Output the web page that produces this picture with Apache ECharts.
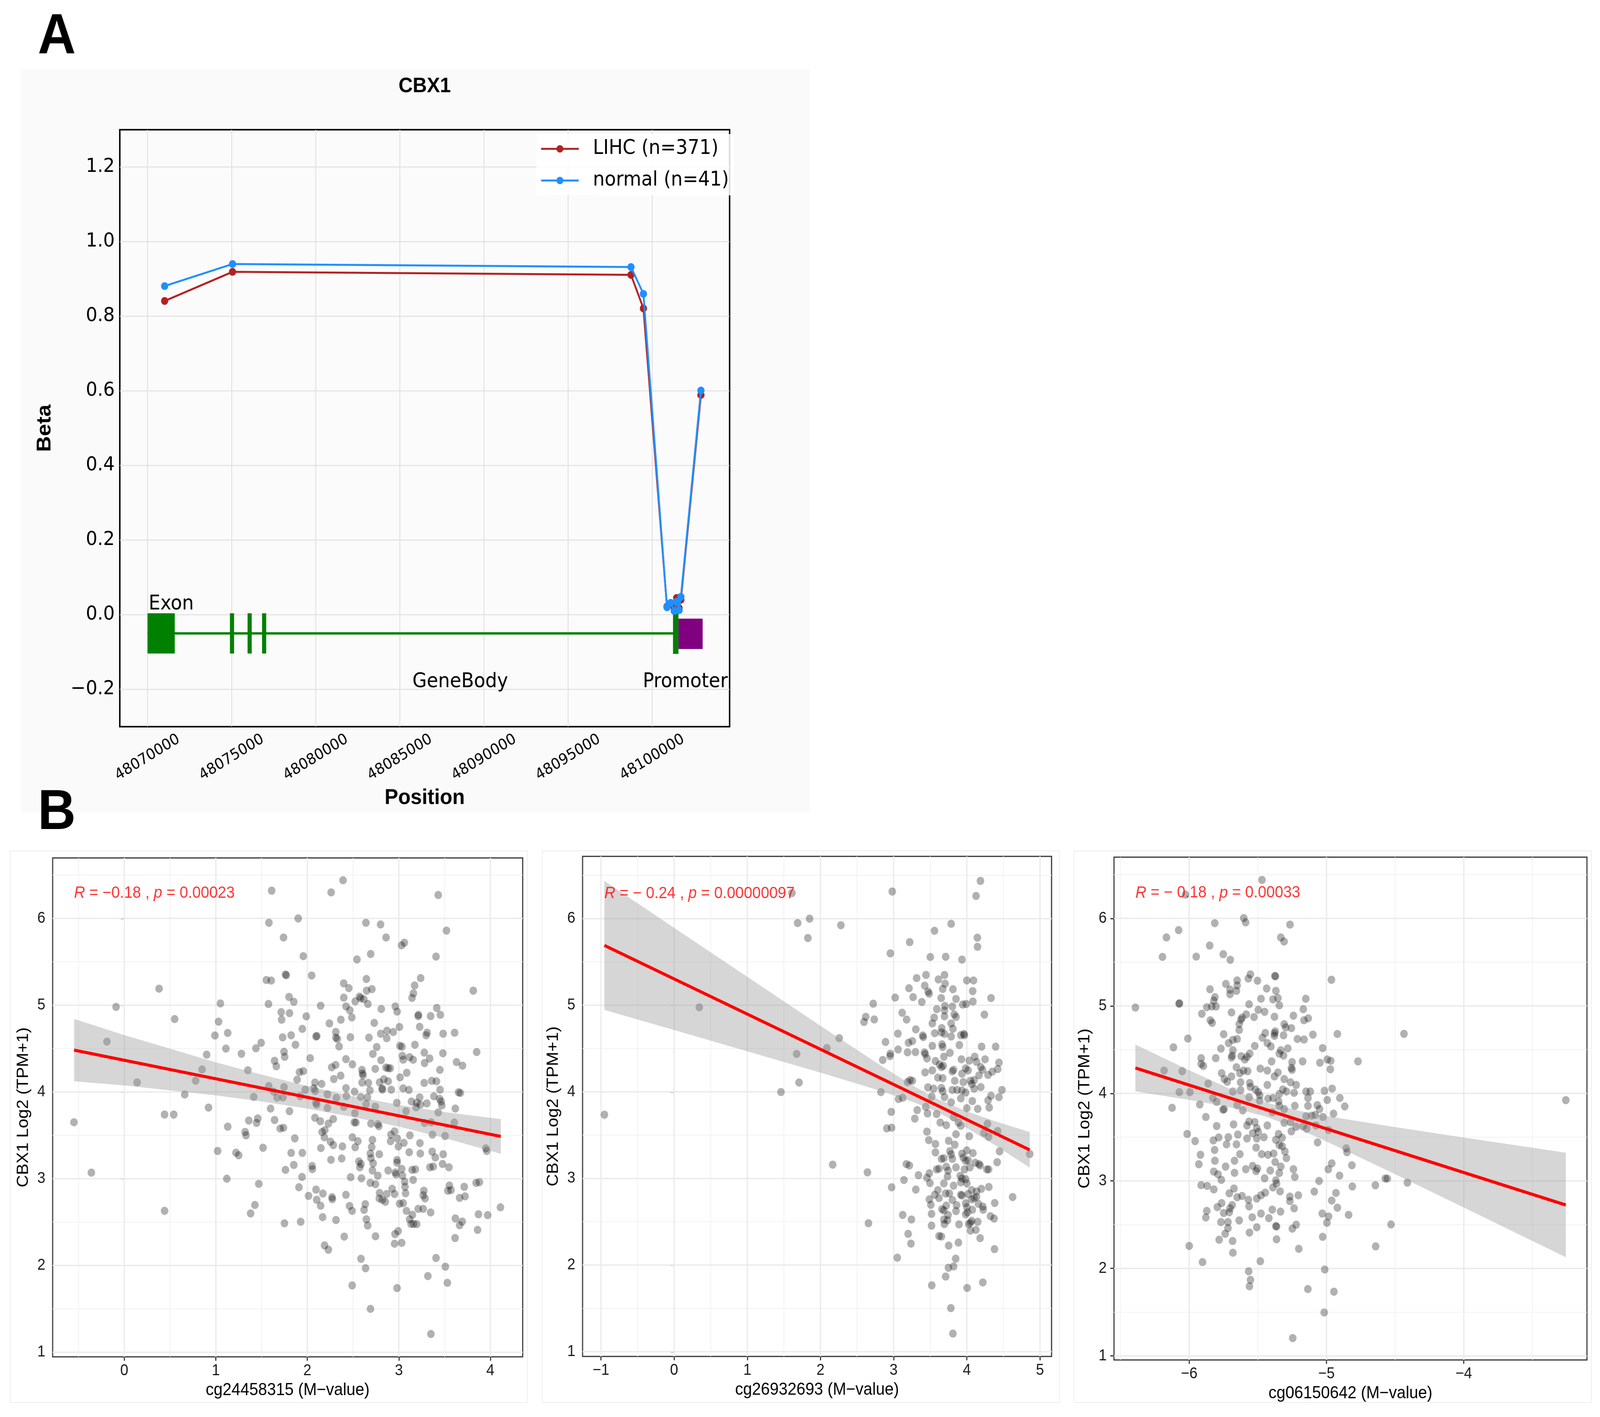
<!DOCTYPE html>
<html>
<head>
<meta charset="utf-8">
<title>CBX1 methylation</title>
<script src="https://cdn.jsdelivr.net/npm/echarts@6/dist/echarts.min.js"></script>
<style>
html, body { margin: 0; padding: 0; background: #fff; overflow: hidden; }
#chart { width: 4408px; height: 3627px; transform-origin: 0 0; }
</style>
</head>
<body>
<div id="chart"></div>
<script>
// ---------- panel A: beta values along CBX1 ----------
const probePositions = [48071016, 48075051, 48098738, 48099477, 48100878, 48101094, 48101309, 48101452, 48101597, 48101705, 48102896];
const lihcBeta = [0.841, 0.919, 0.911, 0.821, 0.022, 0.028, 0.015, 0.045, 0.018, 0.040, 0.589];
const normalBeta = [0.881, 0.940, 0.932, 0.860, 0.020, 0.032, 0.010, 0.035, 0.012, 0.048, 0.601];
const seriesNames = ['LIHC (n=371)', 'normal (n=41)'];

// gene model (genomic coordinates / beta units)
const geneBody = [48070000, 48101398];
const geneBodyY = -0.05;
const exonStart = [48070000, 48074898, 48075946, 48076808, 48101236];
const exonEnd = [48071618, 48075144, 48076192, 48077054, 48101560];
const exonBottom = [-0.104, -0.104, -0.104, -0.104, -0.105];
const exonTop = [0.004, 0.004, 0.004, 0.004, 0.003];
const promoterBox = [48101560, 48102998, -0.092, -0.0105];
const regionLabels = ['Exon', 'GeneBody', 'Promoter'];
const regionLabelX = [48070065, 48085746, 48099443];
const regionLabelY = [0.028, -0.180, -0.180];

const posRange = [48068350, 48104600];
const betaRange = [-0.3, 1.3];
const posTicks = [48070000, 48075000, 48080000, 48085000, 48090000, 48095000, 48100000];
const betaTicks = [-0.2, 0, 0.2, 0.4, 0.6, 0.8, 1.0, 1.2];

// ---------- panel B: CBX1 expression vs probe M-value ----------
const probeNames = ['cg24458315 (M\u2212value)', 'cg26932693 (M\u2212value)', 'cg06150642 (M\u2212value)'];
const corR = ['\u22120.18', '\u2212 0.24', '\u2212 0.18'];
const corP = ['0.00023', '0.00000097', '0.00033'];

const cg24458315Pts = [
[-0.55,3.65],[-0.36,3.07],[-0.19,4.58],[-0.09,4.98],[0.14,4.11],[0.38,5.19],[0.44,3.74],[0.54,3.74],[0.44,2.63],[0.55,4.84],[0.66,3.97],[0.78,4.13],[0.85,4.26],[0.90,4.43],[0.92,3.82],[0.99,4.65],[1.02,3.32],[1.03,4.81],[1.05,5.02],[1.11,4.50],[1.12,3.00],[1.13,4.68],[1.13,3.60],[1.22,3.30],[1.25,3.27],[1.28,4.44],[1.32,3.54],[1.33,3.50],[1.35,4.25],[1.36,3.67],[1.38,2.60],
[1.61,6.32],[2.26,6.30],[2.39,6.44],[3.43,6.27],[1.58,5.95],[1.90,6.00],[2.64,5.95],[2.80,5.93],[3.52,5.86],[1.74,5.78],[2.86,5.78],[3.06,5.72],[3.03,5.69],
[2.49,1.77],[2.69,1.50],[2.98,1.74],[3.35,1.21],[3.53,1.80],
[3.88,2.96],[3.87,2.59],[3.86,2.41],[3.97,2.58],[4.11,2.67],[3.95,3.35],[3.96,3.32],[3.85,4.46],
[1.956,5.565],[2.542,5.527],[2.692,5.590],[3.406,5.560],[1.761,5.354],[1.770,5.344],[1.552,5.290],[1.605,5.284],[2.047,5.342],[2.397,5.252],[2.453,5.197],[2.645,5.302],[2.648,5.167],[2.705,5.185],[3.238,5.312],[3.172,5.227],[3.159,5.137],[3.144,5.084],[3.813,5.167],[1.800,5.095],[1.852,5.039],[1.575,5.014],[2.145,4.994],[2.398,5.087],[2.570,5.099],[2.583,5.080],[2.523,5.044],[2.617,5.069],[2.661,5.014],[2.423,4.986],[2.464,4.941],[2.486,4.859],[2.808,4.956],[2.961,4.986],[2.981,4.926],[3.214,4.889],[3.211,4.874],[3.347,4.874],[3.414,4.968],[3.453,4.889],[1.714,4.919],[1.805,4.908],[1.719,4.833],[1.988,4.871],[2.241,4.790],[2.366,4.833],[2.731,4.796],[3.006,4.749],[3.227,4.751],[1.945,4.727],[1.730,4.629],[1.823,4.653],[2.103,4.646],[2.095,4.638],[2.311,4.691],[2.311,4.626],[2.328,4.611],[2.470,4.631],[2.673,4.626],[2.802,4.671],[2.870,4.706],[2.939,4.691],[2.867,4.619],[3.308,4.683],[3.298,4.653],[3.484,4.671],[3.609,4.682],[1.495,4.566],[1.438,4.503],[1.870,4.544],[2.347,4.524],[2.758,4.518],[3.011,4.532],[3.034,4.521],[3.175,4.544],[2.716,4.438],[3.278,4.453],[3.481,4.446],[1.745,4.464],[1.752,4.405],[2.031,4.389],[1.642,4.359],[1.661,4.296],[2.422,4.378],[2.492,4.318],[2.805,4.366],[3.039,4.416],[3.047,4.371],[3.117,4.401],[3.156,4.371],[3.336,4.386],[3.281,4.333],[3.630,4.344],[3.695,4.303],[2.266,4.284],[2.309,4.311],[2.597,4.254],[2.602,4.213],[2.609,4.191],[2.742,4.266],[2.859,4.281],[2.883,4.273],[2.906,4.273],[3.448,4.254],[1.914,4.228],[1.956,4.240],[1.888,4.141],[2.289,4.149],[2.364,4.188],[3.086,4.221],[3.013,4.168],[2.836,4.146],[2.883,4.123],[2.789,4.111],[3.277,4.104],[3.359,4.128],[3.411,4.123],[2.083,4.108],[2.156,4.093],[2.598,4.108],[2.667,4.104],[1.578,4.068],[1.745,4.056],[1.977,4.026],[2.070,4.041],[2.086,4.011],[2.422,4.044],[2.516,4.003],[2.683,4.018],[2.817,4.041],[2.820,4.026],[2.917,4.026],[3.047,4.041],[3.109,4.023],[3.450,4.026],[3.652,3.996],[3.672,3.988],[1.414,3.943],[1.633,4.003],[1.669,3.935],[1.734,3.938],[1.922,3.950],[2.219,3.973],[2.317,3.932],[2.427,3.953],[2.583,3.943],[2.656,3.938],[3.227,3.938],[3.195,3.875],[3.383,3.950],[3.445,3.920],[3.461,3.890],[3.305,3.868],[3.234,3.853],[2.977,3.875],[2.094,3.875],[2.102,3.853],[1.598,3.808],[1.805,3.778],[2.219,3.815],[2.398,3.830],[2.641,3.860],[2.742,3.830],[2.520,3.755],[3.078,3.778],[3.430,3.763],[3.617,3.808],[3.469,3.845],[3.188,3.823],[3.138,3.890],
[1.458,3.695],[1.445,3.643],[1.642,3.677],[1.703,3.578],[1.739,3.587],[2.083,3.703],[2.142,3.662],[2.283,3.688],[2.230,3.635],[2.161,3.538],[2.191,3.560],[2.186,3.477],[2.252,3.428],[2.284,3.387],[2.513,3.650],[2.531,3.647],[2.695,3.635],[2.770,3.628],[2.781,3.605],[2.492,3.477],[2.552,3.432],[2.523,3.362],[2.383,3.372],[2.711,3.447],[2.703,3.365],[2.688,3.290],[2.695,3.237],[2.719,3.177],[2.711,3.095],[2.786,3.282],[2.953,3.545],[2.914,3.508],[2.909,3.432],[2.984,3.462],[3.055,3.413],[2.995,3.372],[3.120,3.500],[3.230,3.410],[3.234,3.290],[3.113,3.305],[3.364,3.312],[3.398,3.245],[3.484,3.282],[3.477,3.170],[3.547,3.132],[3.339,3.132],[3.375,3.140],[3.367,3.508],[3.505,3.492],[3.606,3.647],[3.281,3.643],[3.352,3.650],[1.516,3.357],[1.863,3.465],[1.823,3.297],[1.945,3.297],[2.148,3.353],[2.258,3.218],[2.375,3.233],[1.852,3.159],[1.761,3.102],[2.052,3.147],[2.055,3.110],[2.563,3.200],[2.586,3.170],[2.573,3.132],[2.980,3.215],[2.980,3.185],[2.883,3.095],[2.961,3.072],[2.969,3.050],[3.031,3.113],[3.145,3.102],[3.180,3.107],[2.770,3.035],[3.039,3.035],[3.156,2.986],[1.942,3.020],[2.473,3.017],[2.591,3.005],[1.469,2.941],[1.908,2.902],[2.688,2.952],[2.745,2.937],[3.063,2.967],[3.067,2.907],[3.073,2.832],[3.552,2.922],[3.536,2.862],[3.570,2.869],[3.714,2.907],[3.844,2.952],[2.095,2.874],[2.170,2.829],[2.013,2.802],[2.102,2.757],[2.270,2.787],[2.273,2.764],[2.422,2.814],[2.789,2.836],[2.786,2.772],[2.820,2.757],[2.852,2.734],[2.867,2.824],[2.927,2.884],[2.953,2.824],[3.273,2.862],[3.266,2.809],[3.286,2.772],[3.664,2.779],[3.723,2.797],[1.427,2.697],[2.145,2.689],[2.461,2.686],[2.489,2.629],[2.633,2.707],[2.620,2.641],[3.008,2.712],[3.047,2.719],[3.083,2.629],[3.148,2.584],[3.211,2.652],[3.266,2.652],[3.347,2.611],[2.167,2.557],[2.313,2.524],[2.645,2.532],[2.659,2.461],[3.117,2.532],[3.133,2.479],[3.195,2.476],[3.161,2.479],[3.617,2.542],[3.692,2.506],[3.664,2.464],[1.750,2.486],[1.927,2.504],[2.403,2.333],[2.745,2.336],[2.992,2.396],[2.958,2.362],[2.953,2.251],[3.031,2.261],[3.614,2.317],[2.188,2.231],[2.230,2.182],[2.586,2.077],[2.636,1.968],[3.406,2.086],[3.508,1.986],[3.317,1.878]
];

const cg26932693Pts = [
[-0.953,3.736],[0.344,4.976],[1.460,3.998],[1.674,4.438],[1.707,4.108],[1.688,5.949],[1.851,6.0],[1.828,5.776],[1.609,6.296],[2.279,5.924],[2.088,4.506],[2.256,4.620],[2.167,3.160],[2.595,4.807],[2.619,4.866],[2.735,4.836],[2.721,5.018],[2.642,3.071],[2.656,2.483],[2.981,6.313],[3.786,5.941],[3.558,5.860],[3.219,5.729],[4.186,6.436],[4.126,6.262],[4.144,5.780],[4.860,3.283],
[2.955,5.599],[3.501,5.557],[3.711,5.560],[3.934,5.527],[4.146,5.675],[3.695,5.350],[3.314,5.313],[3.442,5.350],[3.612,5.298],[3.703,5.249],[3.670,5.188],[3.810,5.185],[4.000,5.286],[4.091,5.286],[4.080,5.163],[3.210,5.196],[3.425,5.226],[3.471,5.158],[3.485,5.133],[3.021,5.088],[3.266,5.094],[3.385,5.038],[3.650,5.083],[3.852,5.073],[3.943,5.008],[3.992,5.015],[4.083,5.043],[4.331,5.083],[3.700,4.993],[3.802,4.985],[3.590,4.955],[3.695,4.940],[3.695,4.872],[3.827,4.895],[3.852,4.865],[3.116,4.913],[3.177,4.835],[3.554,4.857],[3.529,4.790],[3.786,4.790],[4.240,4.892],[3.303,4.722],[3.058,4.672],[3.397,4.651],[3.405,4.632],[3.562,4.677],[3.657,4.737],[3.653,4.687],[3.695,4.669],[3.786,4.639],[3.810,4.729],[3.918,4.654],[3.959,4.669],[3.967,4.654],[2.889,4.576],[3.203,4.567],[3.256,4.587],[3.529,4.531],[3.661,4.549],[3.670,4.519],[3.898,4.541],[4.202,4.522],[4.394,4.522],[3.061,4.489],[3.190,4.456],[3.298,4.459],[3.422,4.456],[3.430,4.436],[3.455,4.386],[2.950,4.413],[2.955,4.441],[2.851,4.368],[3.769,4.451],[3.686,4.406],[3.571,4.356],[3.628,4.316],[3.653,4.286],[3.678,4.301],[3.529,4.248],[3.430,4.225],[3.819,4.255],[3.802,4.236],[3.926,4.376],[4.034,4.361],[4.108,4.406],[4.133,4.346],[4.249,4.376],[4.439,4.338],[3.984,4.271],[4.017,4.248],[3.934,4.210],[4.191,4.286],[4.215,4.255],[4.166,4.191],[4.290,4.195],[4.348,4.233],[4.422,4.263],[3.604,4.165],[3.670,4.158],[3.835,4.128],[3.951,4.113],[4.050,4.128],[4.100,4.135],[4.067,4.090],[3.256,4.128],[3.190,4.113],[3.223,4.135],[2.826,3.997],[3.468,4.052],[3.546,4.037],[3.653,4.045],[3.670,4.007],[3.802,4.022],[3.868,4.022],[3.934,4.015],[3.984,3.992],[4.100,4.037],[4.191,4.055],[4.480,4.022],[3.066,3.917],[3.124,3.932],[3.521,3.947],[3.695,3.939],[3.786,3.879],[3.918,3.924],[4.075,3.894],[4.331,3.955],[4.290,3.902],[4.439,3.939],[4.306,3.819],[4.149,3.804],[4.000,3.812],[2.967,3.769],[3.322,3.789],[3.438,3.827],[3.463,3.751],[3.289,3.691],[3.587,3.744],[3.637,3.646],[3.719,3.616],[3.819,3.706],[3.885,3.646],[3.918,3.608],[4.282,3.631],[4.232,3.526],[4.298,3.480],[4.422,3.548],[4.034,3.488],[3.455,3.541],[3.480,3.443],[3.571,3.398],[3.852,3.511],[3.752,3.435],[3.835,3.390],[2.906,3.578],[2.972,3.586],
[3.571,3.301],[3.769,3.316],[3.786,3.278],[3.934,3.286],[4.083,3.293],[4.000,3.324],[4.447,3.313],[3.174,3.166],[3.215,3.150],[3.653,3.226],[3.686,3.233],[3.802,3.226],[3.951,3.241],[3.984,3.203],[4.017,3.211],[4.116,3.181],[4.182,3.150],[4.166,3.166],[4.273,3.105],[4.298,3.105],[4.414,3.188],[3.587,3.105],[3.620,3.113],[3.719,3.135],[3.744,3.090],[3.852,3.128],[3.967,3.105],[4.042,3.128],[3.339,3.038],[3.488,3.060],[3.455,3.008],[3.496,2.947],[3.736,3.023],[3.910,3.030],[3.934,3.000],[3.984,2.992],[3.141,2.982],[2.972,2.898],[3.303,2.872],[3.686,2.943],[3.819,2.917],[3.918,2.955],[4.000,2.943],[3.604,2.865],[3.562,2.812],[3.620,2.774],[3.711,2.827],[3.761,2.827],[3.488,2.759],[3.508,2.696],[3.802,2.752],[3.918,2.812],[3.934,2.804],[4.017,2.819],[4.066,2.865],[4.133,2.850],[4.199,2.880],[4.133,2.789],[4.066,2.759],[4.100,2.774],[4.301,2.902],[4.626,2.786],[3.719,2.687],[3.860,2.692],[3.984,2.714],[4.000,2.669],[4.075,2.639],[4.158,2.707],[4.219,2.676],[4.224,2.639],[4.381,2.717],[3.661,2.646],[3.686,2.631],[3.852,2.624],[3.984,2.586],[4.009,2.609],[3.124,2.579],[3.243,2.526],[3.518,2.591],[3.744,2.579],[3.686,2.526],[3.736,2.518],[3.694,2.473],[4.323,2.564],[4.373,2.537],[3.518,2.455],[3.893,2.470],[4.025,2.473],[4.050,2.488],[4.066,2.511],[4.149,2.500],[4.050,2.398],[4.124,2.406],[3.198,2.360],[3.236,2.248],[3.620,2.335],[3.653,2.330],[3.752,2.225],[3.885,2.260],[4.182,2.311],[4.378,2.184],[3.050,2.085],[3.848,2.074],[3.749,1.969],[3.819,1.984],[3.711,1.867],[3.521,1.766],[4.004,1.736],[4.219,1.799],[3.782,1.503],[3.810,1.209]
];

const cg06150642Pts = [
[-5.470,6.440],[-6.027,6.272],[-5.603,6.004],[-5.589,5.954],[-5.814,5.946],[-5.266,5.929],[-6.077,5.866],[-6.166,5.782],[-5.333,5.782],[-5.309,5.736],[-5.851,5.690],[-6.392,4.982],[-4.436,4.681],[-3.257,3.923],[-4.644,2.951],[-4.572,3.027],[-4.557,3.027],[-4.411,2.981],[-4.530,2.503],[-4.642,2.252],
[-6.195,5.560],[-5.949,5.563],[-5.752,5.590],[-5.701,5.527],[-5.554,5.361],[-5.569,5.313],[-5.503,5.288],[-5.376,5.343],[-5.372,5.338],[-4.964,5.299],[-5.733,5.251],[-5.651,5.291],[-5.651,5.234],[-5.703,5.187],[-5.656,5.172],[-5.703,5.134],[-5.849,5.190],[-5.436,5.199],[-5.369,5.172],[-5.354,5.090],[-5.390,5.075],[-5.344,5.007],[-5.477,5.082],[-5.151,5.082],[-5.813,5.100],[-5.821,5.060],[-6.074,5.025],[-6.071,5.030],[-5.872,4.985],[-5.836,4.993],[-5.805,4.993],[-5.908,4.910],[-5.564,5.019],[-5.692,4.925],[-5.497,4.955],[-5.451,4.933],[-5.528,4.873],[-5.379,4.876],[-5.585,4.903],[-5.615,4.866],[-5.623,4.843],[-5.636,4.791],[-5.636,4.724],[-5.846,4.836],[-5.833,4.806],[-5.169,4.963],[-5.241,4.888],[-5.164,4.836],[-5.133,4.858],[-5.308,4.791],[-5.297,4.754],[-5.256,4.746],[-5.749,4.676],[-5.446,4.691],[-5.379,4.687],[-5.379,4.657],[-5.374,4.709],[-5.313,4.664],[-5.467,4.637],[-5.431,4.575],[-5.405,4.537],[-5.212,4.622],[-5.164,4.616],[-5.099,4.672],[-4.921,4.679],[-6.010,4.627],[-6.115,4.527],[-5.651,4.622],[-5.682,4.612],[-5.713,4.575],[-5.769,4.512],[-5.523,4.542],[-5.682,4.493],[-5.687,4.433],[-5.692,4.410],[-5.621,4.425],[-5.579,4.418],[-5.559,4.455],[-5.595,4.388],[-5.333,4.493],[-5.282,4.515],[-5.344,4.455],[-5.313,4.433],[-5.028,4.518],[-4.771,4.366],[-4.995,4.388],[-4.969,4.373],[-5.048,4.351],[-4.972,4.276],[-5.174,4.366],[-4.959,4.055],[-5.913,4.403],[-5.913,4.336],[-5.897,4.313],[-5.807,4.403],[-6.183,4.261],[-6.051,4.254],[-5.656,4.299],[-5.605,4.261],[-5.574,4.254],[-5.631,4.231],[-5.764,4.231],[-5.744,4.164],[-5.723,4.134],[-5.692,4.194],[-5.482,4.284],[-5.431,4.261],[-5.400,4.366],[-5.354,4.239],[-5.379,4.194],[-5.256,4.291],[-5.251,4.269],[-5.308,4.164],[-5.262,4.127],[-5.221,4.097],[-5.251,4.358],[-5.862,4.112],[-5.626,4.127],[-5.559,4.119],[-5.431,4.097],[-5.554,4.075],[-5.626,4.037],[-5.682,4.022],[-5.518,4.045],[-5.497,4.015],[-5.487,3.978],[-6.072,4.015],[-5.995,4.015],[-5.318,4.045],[-5.292,4.022],[-5.236,4.007],[-5.344,3.993],[-5.149,4.022],[-5.118,4.022],[-5.015,4.030],[-5.135,3.948],[-4.903,3.948],[-4.995,3.925],[-5.426,3.940],[-5.390,3.948],[-5.564,3.955],[-5.487,3.918],[-5.349,3.910],[-4.867,3.851],[-5.231,3.858],[-5.135,3.858],[-5.067,3.866],[-5.051,3.821],[-5.828,3.948],[-5.800,3.903],[-5.923,3.873],[-6.125,3.836],[-5.746,3.821],[-5.754,3.813],[-5.651,3.866],[-5.610,3.806],[-5.344,3.858],[-5.308,3.821],[-5.395,3.784],[-5.149,3.739],[-5.108,3.746],[-5.082,3.754],[-5.026,3.731],[-4.949,3.769],[-5.879,3.731],[-5.800,3.627],[-5.677,3.646],[-5.564,3.679],[-5.579,3.634],[-5.523,3.672],[-5.508,3.604],[-5.431,3.634],[-5.308,3.664],[-5.262,3.672],[-5.221,3.619],[-5.256,3.567],[-5.169,3.627],[-5.144,3.597],[-5.077,3.634],[-4.985,3.582],[-6.015,3.537],[-5.957,3.455],[-5.824,3.463],[-5.785,3.497],[-5.715,3.500],[-5.728,3.418],[-5.646,3.530],[-5.656,3.418],[-5.579,3.485],[-5.538,3.545],[-5.508,3.485],[-5.456,3.500],[-5.497,3.560],[-5.349,3.537],[-5.323,3.493],[-5.369,3.470],[-5.344,3.410],[-5.323,3.396],[-5.065,3.440],[-4.856,3.373],[-4.851,3.328],[-5.815,3.354],[-5.513,3.381],[-5.918,3.299],[-5.631,3.306],[-5.472,3.306],[-5.426,3.299],[-5.385,3.313],[-5.303,3.336],
[-5.292,3.261],[-5.930,3.191],[-5.813,3.231],[-5.735,3.164],[-5.670,3.231],[-5.670,3.093],[-5.821,3.107],[-5.790,3.075],[-5.766,3.012],[-5.588,3.134],[-5.538,3.172],[-5.503,3.142],[-5.513,3.112],[-5.451,3.030],[-5.410,3.119],[-5.374,3.216],[-5.333,3.164],[-5.344,3.090],[-5.369,3.007],[-5.364,2.970],[-5.390,2.925],[-5.338,2.881],[-5.241,3.134],[-5.231,3.045],[-5.913,2.952],[-5.869,2.943],[-5.821,2.903],[-5.674,2.913],[-5.708,2.858],[-5.651,2.813],[-5.615,2.828],[-5.569,2.784],[-5.564,2.709],[-5.508,2.799],[-5.477,2.836],[-5.446,2.866],[-5.267,2.821],[-5.267,2.769],[-5.205,2.836],[-5.236,2.687],[-5.764,2.746],[-5.795,2.701],[-5.687,2.724],[-5.703,2.687],[-5.749,2.634],[-5.708,2.642],[-5.872,2.657],[-5.879,2.582],[-5.769,2.530],[-5.718,2.530],[-5.718,2.460],[-5.738,2.396],[-5.636,2.549],[-5.541,2.585],[-5.477,2.627],[-5.395,2.672],[-5.335,2.649],[-5.420,2.575],[-5.508,2.470],[-5.561,2.410],[-5.369,2.485],[-5.364,2.478],[-5.221,2.500],[-5.249,2.455],[-5.782,2.328],[-5.684,2.313],[-5.682,2.179],[-6.000,2.257],[-5.903,2.072],[-5.364,2.333],[-5.202,2.224],[-5.482,2.082],[-5.567,1.967],[-5.554,1.869],[-5.561,1.796],[-5.136,1.764],[-4.946,1.734],[-5.017,1.497],[-5.246,1.204],[-5.054,3.000],[-5.089,2.878],[-4.987,3.134],[-4.962,3.201],[-4.905,3.060],[-4.815,3.179],[-4.812,2.937],[-4.931,2.863],[-4.962,2.776],[-4.921,2.694],[-5.031,2.627],[-4.985,2.594],[-4.997,2.522],[-4.839,2.612],[-5.028,2.361],[-5.013,1.988]
];

// linear fits and their confidence bands
const b1FitX = [-0.549, 4.114];
const b1FitY = [4.482, 3.487];
const b1BandX = [-0.549, 0, 0.5, 1, 1.5, 2, 2.5, 3, 3.5, 4.114];
const b1BandLow = [4.122, 4.075, 4.018, 3.961, 3.890, 3.808, 3.711, 3.600, 3.468, 3.287];
const b1BandHigh = [4.842, 4.655, 4.498, 4.341, 4.200, 4.068, 3.951, 3.850, 3.768, 3.687];

const b2FitX = [-0.953, 4.860];
const b2FitY = [5.691, 3.330];
const b2BandX = [-0.953, 0, 1, 2, 2.8, 3.3, 3.6, 4.0, 4.4, 4.86];
const b2BandLow = [4.946, 4.714, 4.468, 4.222, 4.017, 3.873, 3.767, 3.584, 3.377, 3.125];
const b2BandHigh = [6.436, 5.894, 5.328, 4.762, 4.317, 4.053, 3.917, 3.774, 3.657, 3.535];

const b3FitX = [-6.392, -3.257];
const b3FitY = [4.291, 2.725];
const b3BandX = [-6.392, -6.0, -5.7, -5.45, -5.2, -5.0, -4.5, -4.0, -3.5, -3.257];
const b3BandLow = [4.024, 3.926, 3.840, 3.740, 3.591, 3.451, 3.077, 2.696, 2.313, 2.128];
const b3BandHigh = [4.558, 4.264, 4.050, 3.900, 3.801, 3.741, 3.615, 3.496, 3.379, 3.322];

// axis ranges and ticks
const b1XRange = [-0.783, 4.353], b1YRange = [0.947, 6.697];
const b2XRange = [-1.251, 5.158], b2YRange = [0.945, 6.719];
const b3XRange = [-6.548, -3.103], b3YRange = [0.954, 6.700];
const b1XTicks = [0, 1, 2, 3, 4], b1XMinor = [-0.5, 0.5, 1.5, 2.5, 3.5];
const b2XTicks = [-1, 0, 1, 2, 3, 4, 5], b2XMinor = [-0.5, 0.5, 1.5, 2.5, 3.5, 4.5];
const b3XTicks = [-6, -5, -4], b3XMinor = [-6.5, -5.5, -4.5, -3.5];
const yTicksB = [1, 2, 3, 4, 5, 6], yMinorB = [1.5, 2.5, 3.5, 4.5, 5.5, 6.5];
const corLabelY = 6.29;

// ---------- chart ----------
const W = 4408, H = 3627;
const fontA = 'DejaVu Sans';
const fontB = 'Liberation Sans';
const minus = v => String(v).replace('-', '\u2212');

const dom = document.getElementById('chart');
function fitToWindow() {
    // the figure is laid out on a 4408x3627 sheet; squeeze it into whatever the window really is
    const sx = window.innerWidth / W, sy = window.innerHeight / H;
    dom.style.transform = (Math.abs(sx - 1) > 0.001 || Math.abs(sy - 1) > 0.001) ? `scale(${sx}, ${sy})` : 'none';
}
fitToWindow();
const chart = echarts.init(dom, null, { width: W, height: H });

// grid lines drawn through the axis scales
function gridLines(idx, xs, ys, yAt, xAt, color, width) {
    const items = xs.map(v => [v, 0]).concat(ys.map(v => [v, 1]));
    return {
        type: 'custom', xAxisIndex: idx, yAxisIndex: idx, z: 1, silent: true,
        data: items,
        renderItem: (params, api) => {
            const cs = params.coordSys;
            const v = api.value(0);
            if (api.value(1) === 0) {
                const x = api.coord([v, yAt])[0];
                return { type: 'line', shape: { x1: x, y1: cs.y, x2: x, y2: cs.y + cs.height }, style: { stroke: color, lineWidth: width } };
            }
            const y = api.coord([xAt, v])[1];
            return { type: 'line', shape: { x1: cs.x, y1: y, x2: cs.x + cs.width, y2: y }, style: { stroke: color, lineWidth: width } };
        }
    };
}

const grids = [{ left: 330, top: 332, width: 1680, height: 1528, show: true, backgroundColor: '#fbfbfb', borderColor: '#000', borderWidth: 4 }];
const xAxes = [{
    type: 'value', gridIndex: 0, min: posRange[0], max: posRange[1],
    splitLine: { show: false }, axisLine: { show: false }, axisTick: { show: false, customValues: posTicks },
    axisLabel: { customValues: posTicks, formatter: v => String(v), rotate: 30, align: 'center', verticalAlign: 'middle', margin: 79, fontFamily: fontA, fontSize: 39, color: '#000' },
    name: 'Position', nameLocation: 'middle', nameGap: 155,
    nameTextStyle: { fontFamily: fontB, fontWeight: 'bold', fontSize: 56, color: '#000' }
}];
const yAxes = [{
    type: 'value', gridIndex: 0, min: betaRange[0], max: betaRange[1],
    splitLine: { show: false }, axisLine: { show: false }, axisTick: { show: false, customValues: betaTicks },
    axisLabel: { customValues: betaTicks, formatter: v => minus(v.toFixed(1)), margin: 14, fontFamily: fontA, fontSize: 50, color: '#000' },
    name: 'Beta', nameLocation: 'middle', nameGap: 178, nameRotate: 90,
    nameTextStyle: { fontFamily: fontB, fontWeight: 'bold', fontSize: 56, color: '#000' }
}];

const series = [
    gridLines(0, posTicks, betaTicks, 0, posRange[0], '#dcdcdc', 2),
    {
        type: 'line', xAxisIndex: 0, yAxisIndex: 0, z: 2, silent: true, showSymbol: false,
        data: geneBody.map(x => [x, geneBodyY]),
        lineStyle: { color: '#008000', width: 6 }
    },
    {
        type: 'custom', xAxisIndex: 0, yAxisIndex: 0, z: 3, silent: true,
        data: exonStart.map((s, i) => [s, exonEnd[i], exonBottom[i], exonTop[i]]).concat([promoterBox]),
        encode: { x: [0, 1], y: [2, 3] },
        renderItem: (params, api) => {
            const a = api.coord([api.value(0), api.value(3)]);
            const b = api.coord([api.value(1), api.value(2)]);
            const isPromoter = params.dataIndex === exonStart.length;
            return {
                type: 'rect',
                shape: { x: a[0], y: a[1], width: b[0] - a[0], height: b[1] - a[1] },
                style: { fill: isPromoter ? '#800080' : '#008000' }
            };
        }
    },
    {
        type: 'custom', xAxisIndex: 0, yAxisIndex: 0, z: 3, silent: true,
        data: regionLabels.map((t, i) => [regionLabelX[i], regionLabelY[i]]),
        renderItem: (params, api) => {
            const p = api.coord([api.value(0), api.value(1)]);
            return {
                type: 'text', x: p[0], y: p[1],
                style: { text: regionLabels[params.dataIndex], fontFamily: fontA, fontSize: 51, fill: '#000', align: 'left', verticalAlign: 'middle' }
            };
        }
    },
    {
        name: seriesNames[0], type: 'line', xAxisIndex: 0, yAxisIndex: 0, z: 5,
        data: probePositions.map((x, i) => [x, lihcBeta[i]]),
        symbol: 'circle', symbolSize: 20, showAllSymbol: true,
        lineStyle: { color: '#b22222', width: 5 }, itemStyle: { color: '#b22222' }
    },
    {
        name: seriesNames[1], type: 'line', xAxisIndex: 0, yAxisIndex: 0, z: 6,
        data: probePositions.map((x, i) => [x, normalBeta[i]]),
        symbol: 'circle', symbolSize: 20, showAllSymbol: true,
        lineStyle: { color: '#1e90ff', width: 5 }, itemStyle: { color: '#1e90ff' }
    }
];

const panelsB = [
    { grid: { left: 145, top: 2196, width: 1295, height: 1277 }, pts: cg24458315Pts, xr: b1XRange, yr: b1YRange, xt: b1XTicks, xm: b1XMinor,
      fitX: b1FitX, fitY: b1FitY, bx: b1BandX, bl: b1BandLow, bh: b1BandHigh },
    { grid: { left: 1605, top: 2192, width: 1292, height: 1280 }, pts: cg26932693Pts, xr: b2XRange, yr: b2YRange, xt: b2XTicks, xm: b2XMinor,
      fitX: b2FitX, fitY: b2FitY, bx: b2BandX, bl: b2BandLow, bh: b2BandHigh },
    { grid: { left: 3069, top: 2194, width: 1303, height: 1287 }, pts: cg06150642Pts, xr: b3XRange, yr: b3YRange, xt: b3XTicks, xm: b3XMinor,
      fitX: b3FitX, fitY: b3FitY, bx: b3BandX, bl: b3BandLow, bh: b3BandHigh }
];

panelsB.forEach((P, k) => {
    const gi = k + 1;
    grids.push(Object.assign({ show: true, backgroundColor: '#fff', borderColor: '#333', borderWidth: 3 }, P.grid));
    xAxes.push({
        type: 'value', gridIndex: gi, min: P.xr[0], max: P.xr[1],
        splitLine: { show: false }, axisLine: { show: false },
        axisTick: { show: true, length: 10, customValues: P.xt, lineStyle: { color: '#333', width: 3 } },
        axisLabel: { customValues: P.xt, formatter: minus, margin: 16, fontFamily: fontB, fontSize: 40, color: '#1a1a1a' },
        name: probeNames[k], nameLocation: 'middle', nameGap: 64,
        nameTextStyle: { fontFamily: fontB, fontSize: 44, color: '#000' }
    });
    yAxes.push({
        type: 'value', gridIndex: gi, min: P.yr[0], max: P.yr[1],
        splitLine: { show: false }, axisLine: { show: false },
        axisTick: { show: true, length: 10, customValues: yTicksB, lineStyle: { color: '#333', width: 3 } },
        axisLabel: { customValues: yTicksB, margin: 20, fontFamily: fontB, fontSize: 40, color: '#1a1a1a' },
        name: 'CBX1 Log2 (TPM+1)', nameLocation: 'middle', nameGap: 58, nameRotate: 90,
        nameTextStyle: { fontFamily: fontB, fontSize: 44, color: '#000' }
    });
    series.push(gridLines(gi, P.xm, yMinorB, P.yr[0], P.xr[0], '#f2f2f2', 2));
    series.push(gridLines(gi, P.xt, yTicksB, P.yr[0], P.xr[0], '#ebebeb', 3.5));
    series.push({
        type: 'scatter', xAxisIndex: gi, yAxisIndex: gi, z: 3, silent: true,
        data: P.pts, symbolSize: 21, itemStyle: { color: 'rgba(0,0,0,0.38)' }
    });
    series.push({
        type: 'custom', xAxisIndex: gi, yAxisIndex: gi, z: 4, silent: true,
        data: [[P.bx[0], P.bl[0]]],
        renderItem: (params, api) => {
            const upper = P.bx.map((x, i) => api.coord([x, P.bh[i]]));
            const lower = P.bx.map((x, i) => api.coord([x, P.bl[i]])).reverse();
            return { type: 'polygon', shape: { points: upper.concat(lower) }, style: { fill: 'rgba(153,153,153,0.4)' } };
        }
    });
    series.push({
        type: 'line', xAxisIndex: gi, yAxisIndex: gi, z: 5, silent: true, showSymbol: false,
        data: P.fitX.map((x, i) => [x, P.fitY[i]]),
        lineStyle: { color: '#ff0000', width: 8 }
    });
    series.push({
        type: 'scatter', xAxisIndex: gi, yAxisIndex: gi, z: 6, silent: true,
        data: [[P.fitX[0], corLabelY]], symbolSize: 0,
        label: {
            show: true, position: 'right', distance: 0,
            formatter: '{i|R} = ' + corR[k] + ' , {i|p} = ' + corP[k],
            fontFamily: fontB, fontSize: 42, color: '#ff0000',
            rich: { i: { fontStyle: 'italic', fontFamily: fontB, fontSize: 42, color: '#ff0000' } }
        }
    });
});

chart.setOption({
    backgroundColor: '#ffffff',
    animation: false,
    grid: grids,
    xAxis: xAxes,
    yAxis: yAxes,
    legend: {
        data: seriesNames, orient: 'vertical', left: 1478, top: 343,
        itemWidth: 104, itemHeight: 24, itemGap: 21, selectedMode: false,
        lineStyle: { width: 5 },
        backgroundColor: 'rgba(255,255,255,0.85)', padding: [8, 14, 8, 10], borderRadius: 8,
        textStyle: { fontFamily: fontA, fontSize: 51, color: '#000', lineHeight: 60, padding: [0, 0, 0, 34] }
    },
    graphic: [
        { type: 'rect', z: -10, silent: true, shape: { x: 58, y: 177, width: 2172, height: 1903 }, style: { fill: '#fafafa' } },
        { type: 'rect', z: -10, silent: true, shape: { x: 28, y: 2178, width: 1425, height: 1412 }, style: { fill: 'none', stroke: '#ededed', lineWidth: 2 } },
        { type: 'rect', z: -10, silent: true, shape: { x: 1494, y: 2178, width: 1425, height: 1412 }, style: { fill: 'none', stroke: '#ededed', lineWidth: 2 } },
        { type: 'rect', z: -10, silent: true, shape: { x: 2959, y: 2178, width: 1425, height: 1412 }, style: { fill: 'none', stroke: '#ededed', lineWidth: 2 } },
        { type: 'text', x: 1170, y: 221, style: { text: 'CBX1', fontFamily: fontB, fontWeight: 'bold', fontSize: 54, fill: '#000', align: 'center', verticalAlign: 'middle' } },
        { type: 'text', x: 104, y: 96, style: { text: 'A', fontFamily: fontB, fontWeight: 'bold', fontSize: 145, fill: '#000', align: 'left', verticalAlign: 'middle' } },
        { type: 'text', x: 104, y: 2082, style: { text: 'B', fontFamily: fontB, fontWeight: 'bold', fontSize: 145, fill: '#000', align: 'left', verticalAlign: 'middle' } }
    ],
    series: series
});

window.addEventListener('resize', fitToWindow);
</script>
</body>
</html>
